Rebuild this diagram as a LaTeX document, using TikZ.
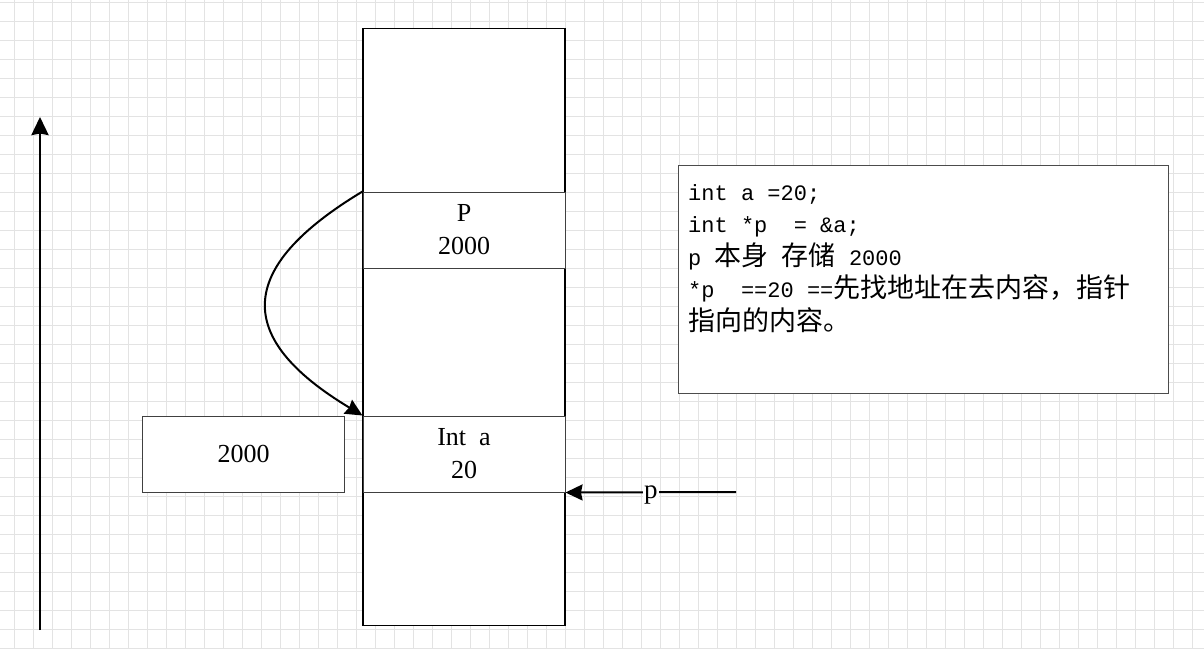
\documentclass[tikz,border=0pt]{standalone}
\usepackage{fontspec}
\setmainfont{Liberation Serif}
\setmonofont{Liberation Mono}
\newfontfamily\cjk{Noto Sans CJK SC}
\newcommand\zh[1]{{\cjk\fontsize{27}{32.5}\selectfont #1}}
\usetikzlibrary{arrows.meta, positioning}

\begin{document}
\begin{tikzpicture}[
    x=1pt, y=-1pt,
    >={Stealth[length=17pt, width=16pt, inset=1.5pt]},
    node distance=224pt and 220.5pt,
    on grid,
    gridline/.style={draw=black!11, line width=0.9pt},
    memcol/.style={draw=black, line width=1.2pt, fill=white, minimum width=202pt, minimum height=597pt, inner sep=0pt},
    memcell/.style={draw=black!75, line width=1pt, fill=white, minimum width=202pt, minimum height=76pt, align=center, inner sep=0pt, font=\fontsize{26}{33}\selectfont},
    notebox/.style={draw=black!70, line width=1pt, fill=white, minimum width=490pt, minimum height=228pt, inner sep=0pt},
    codetext/.style={align=left, inner sep=0pt, font=\ttfamily\fontsize{22}{32.5}\selectfont},
    pointer/.style={->, line width=2pt},
    plabel/.style={fill=white, inner sep=1pt, font=\fontsize{27}{27}\selectfont}
]
\useasboundingbox (0,0) rectangle (1204,649);
\fill[white] (0,0) rectangle (1204,649);

% -------------------------
% GRID
% -------------------------
\foreach \gx in {0,...,62}
    \draw[gridline] (14+19*\gx,0) -- (14+19*\gx,649);
\foreach \gy in {0,...,34}
    \draw[gridline] (0,2.5+19*\gy) -- (1204,2.5+19*\gy);

% -------------------------
% MEMORY
% -------------------------
\node[memcol] (Stack) at (464,327) {};

\node[memcell] (PCell) at (464,230) {P\\2000};

\node[memcell] (ACell) [below=of PCell] {Int\ \ a\\20};

\node[memcell] (Addr) [left=of ACell] {2000};

% -------------------------
% NOTE
% -------------------------
\node[notebox] (Note) at (923,279) {};

\node[codetext, anchor=north west] (Code) at (688,184) {
    int a =20;\\
    int *p\ \ = \&a;\\
    p \zh{本身} \zh{存储} 2000\\
    *p\ \ ==20 ==\zh{先找地址在去内容，指针}\\
    \zh{指向的内容。}
};

% -------------------------
% ARROWS
% -------------------------
\coordinate (AxisLow) at (40,630);
\coordinate (AxisHigh) at (40,117);
\draw[-{Stealth[length=18pt, width=17pt, inset=1.5pt]}, line width=2.6pt] (AxisLow) -- (AxisHigh);

% P points back to a
\draw[pointer] (PCell.north west) .. controls +(-128,77) and +(-128,-77) .. (ACell.north west);

% pointer p at the end of a
\coordinate (PFree) at (736,492);
\draw[pointer] (PFree) -- node[plabel, yshift=-3pt] (PName) {p} (ACell.south east);

\end{tikzpicture}
\end{document}
